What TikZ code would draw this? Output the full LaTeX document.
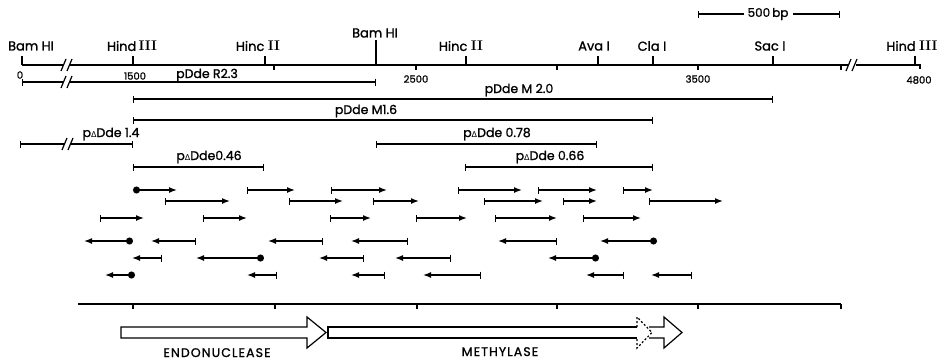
\documentclass[tikz,border=0pt]{standalone}
\usepackage{fontspec}
\setsansfont{Poppins}[FakeBold=1.2]
\newfontfamily\capsfont{Poppins}[FakeBold=1.2, LetterSpace=9]
\newfontfamily\dejavu{DejaVu Sans}
\usetikzlibrary{arrows.meta}
\newcommand{\rn}[1]{{\rmfamily\bfseries\fontsize{14}{14}\selectfont #1}}
\newcommand{\dl}{{\dejavu\fontsize{8}{8}\selectfont Δ}}
\tikzset{
  site/.style={font=\sffamily\fontsize{13}{13}\selectfont, inner sep=0pt},
  num/.style={font=\sffamily\fontsize{10}{10}\selectfont, inner sep=0pt},
  clone/.style={font=\sffamily\fontsize{12.5}{12.5}\selectfont, inner sep=0pt},
  gene/.style={font=\capsfont\fontsize{12.5}{12.5}\selectfont, inner sep=0pt, anchor=base},
  seq/.style={line width=1.4pt, {Bar[width=7pt]}-{Latex[length=8pt,width=6pt]}},
  seqdot/.style={line width=1.4pt, {Circle[length=7pt]}-{Latex[length=8pt,width=6pt]}},
  span/.style={{Bar[width=7pt]}-{Bar[width=7pt]}}
}

\begin{document}
\begin{tikzpicture}[x=1pt, y=-1pt, line width=1.2pt]
  \useasboundingbox (0,0) rectangle (946,360);
  % scale bar
  \draw[{Bar[width=7pt]}-] (698,14) -- (744,14);
  \draw[-{Bar[width=7pt]}] (793,14) -- (840,14);
  \node[num, font=\sffamily\fontsize{12}{12}\selectfont] (bp) at (768,14) {500\,bp};
  % restriction map
  \draw (22,65) -- (64,65) (70,65) -- (849,65) (856,65) -- (920,65) -- (920,69);
  \draw (61,71) -- (66,59) (67,71) -- (72,59);
  \draw (846,71) -- (851,59) (852,71) -- (857,59);
  \draw (22,56) -- (22,65);
  \draw (376,40) -- (376,65);
  \foreach \x in {133,265,466,598,653,773,915}
    \draw (\x,56) -- (\x,65);
  \foreach \x in {274,416,557,698,841}
    \draw (\x,65) -- (\x,70);
  \node[site] (bam1) at (31,46) {Bam HI};
  \node[site] (hind1) at (132,46) {Hind\,\rn{III}};
  \node[site] (hinc1) at (258,46) {Hinc \rn{II}};
  \node[site] (bam2) at (375,33) {Bam HI};
  \node[site] (hinc2) at (461,46) {Hinc \rn{II}};
  \node[site] (ava) at (594,46) {Ava I};
  \node[site] (cla) at (652,46) {Cla I};
  \node[site] (sac) at (770,46) {Sac I};
  \node[site] (hind2) at (912,46) {Hind \rn{III}};
  \node[num] (n0) at (20,75) {0};
  \node[num] (n1500) at (135,76) {1500};
  \node[num] (n2500) at (416,79) {2500};
  \node[num] (n3500) at (698,79) {3500};
  \node[num] (n4800) at (919,80) {4800};
  % subclones
  \draw[{Bar[width=7pt]}-] (22,82) -- (64,82);
  \draw (61,88) -- (66,76) (67,88) -- (72,76);
  \draw[-{Bar[width=7pt]}] (70,82) -- (376,82);
  \draw[span] (133,99) -- (773,99);
  \draw[span] (133,120) -- (653,120);
  \draw[{Bar[width=7pt]}-] (20,144) -- (64,144);
  \draw (62,150) -- (67,138) (68,150) -- (73,138);
  \draw[-{Bar[width=7pt]}] (70,144) -- (133,144);
  \draw[span] (376,144) -- (597,144);
  \draw[span] (133,167) -- (264,167);
  \draw[span] (465,167) -- (653,167);
  \node[clone] (r23) at (207,75) {pDde R2.3};
  \node[clone] (m20) at (519,90) {pDde M 2.0};
  \node[clone] (m16) at (366,111) {pDde M1.6};
  \node[clone] (d14) at (111,134) {p\dl Dde 1.4};
  \node[clone] (d078) at (497,134) {p\dl Dde 0.78};
  \node[clone] (d046) at (209,157) {p\dl Dde0.46};
  \node[clone] (d066) at (550,157) {p\dl Dde 0.66};
  % sequencing runs
  \draw[seqdot] (133,190) -- (177,190);
  \foreach \a/\b in {247/295,331/387,458/522,538/597,623/653}
    \draw[seq] (\a,190) -- (\b,190);
  \foreach \a/\b in {165/230,289/343,373/419,484/543,563/597,649/723}
    \draw[seq] (\a,201) -- (\b,201);
  \foreach \a/\b in {100/144,203/247,330/371,416/467,495/557,583/641}
    \draw[seq] (\a,218) -- (\b,218);
  \foreach \a/\b in {133/84,657/600}
    \draw[seqdot] (\a,241) -- (\b,241);
  \foreach \a/\b in {196/151,323/268,408/351,557/498}
    \draw[seq] (\a,241) -- (\b,241);
  \foreach \a/\b in {264/196,599/548}
    \draw[seqdot] (\a,258) -- (\b,258);
  \foreach \a/\b in {162/132,364/319,451/395}
    \draw[seq] (\a,258) -- (\b,258);
  \draw[seqdot] (135,275) -- (105,275);
  \foreach \a/\b in {277/247,385/351,481/423,624/586,692/651}
    \draw[seq] (\a,275) -- (\b,275);
  % bottom scale
  \draw (78,304) -- (841,304);
  \foreach \x in {133,275,417,557,698,841}
    \draw (\x,304) -- (\x,309);
  % genes
  \draw[line join=miter] (121,327) -- (307,327) -- (307,317) -- (326,332.5)
    -- (307,348) -- (307,338) -- (121,338) -- cycle;
  \draw (637,327) -- (328,327) -- (328,338) -- (637,338);
  \draw[dash pattern=on 2pt off 2pt] (637,327) -- (637,317) -- (652,332.5)
    -- (637,348) -- (637,338);
  \draw[line join=miter] (649,327) -- (664,327) -- (664,317) -- (682,332.5)
    -- (664,348) -- (664,338) -- (649,338);
  \node[gene] (endo) at (217,357) {ENDONUCLEASE};
  \node[gene] (meth) at (500,356) {METHYLASE};
\end{tikzpicture}
\end{document}
